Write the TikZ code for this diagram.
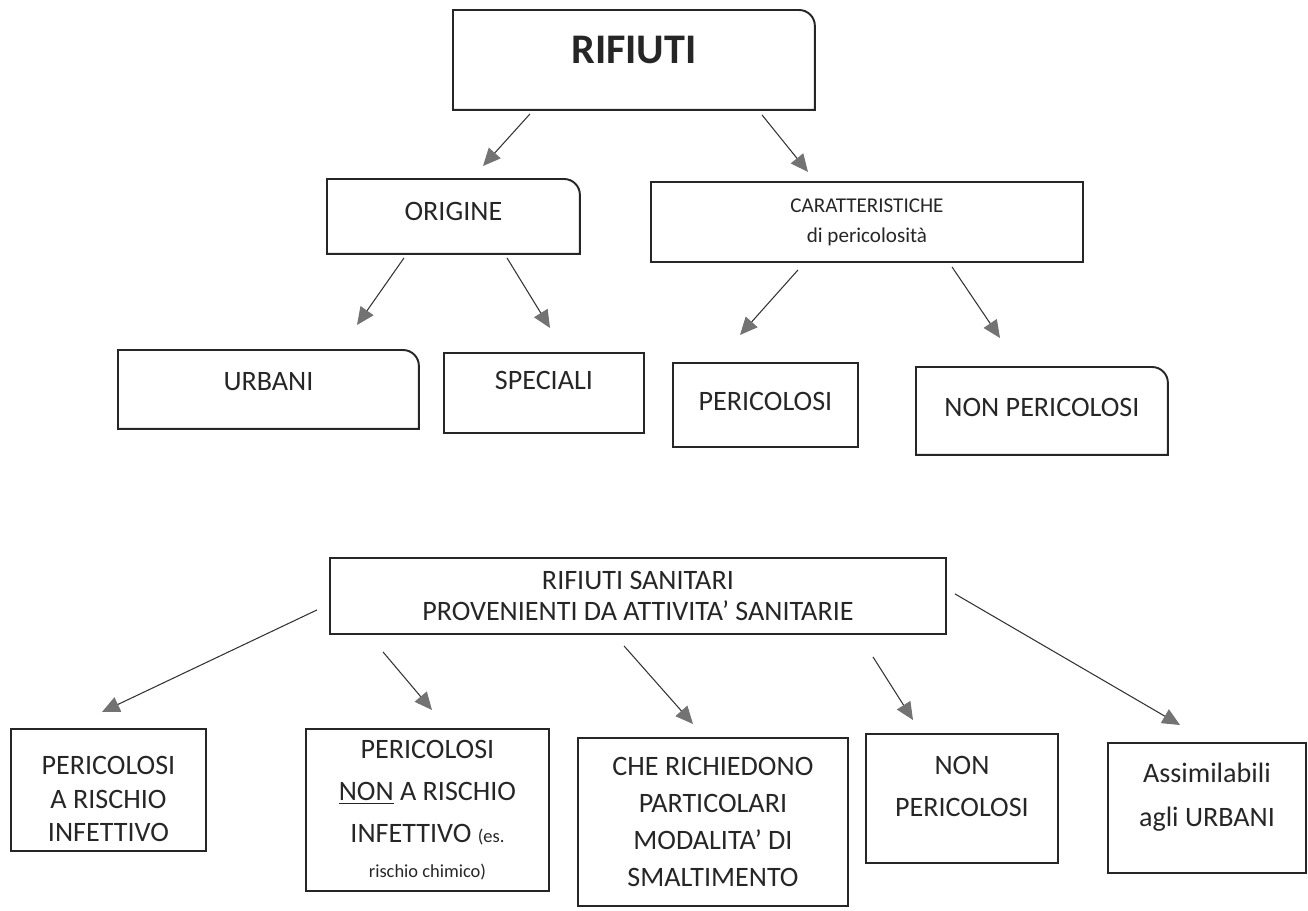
\documentclass[tikz,border=0pt]{standalone}
\usepackage{fontspec}
\setmainfont{Carlito}
\usetikzlibrary{arrows.meta,positioning}

% outline with the top right corner rounded
\newcommand{\roundtr}[1]{%
  \draw[boxline] (#1.south west) -- (#1.north west) -- ([xshift=-9pt]#1.north east)
    arc[start angle=90, end angle=0, radius=9pt] -- (#1.south east) -- cycle;}
% extra depth under the last line, lifts the text in its box
\newcommand{\lift}[1]{\rule[-#1]{0pt}{0pt}}

\tikzset{
  boxline/.style   = {line width=1.1pt, black!85},
  mapbox/.style    = {draw, boxline, anchor=north west, inner sep=0pt, align=center,
                      font=\fontsize{16}{21}\selectfont},
  cornerbox/.style = {mapbox, draw=none},
  arrowlink/.style = {line width=0.6pt, black!80,
                      -{Triangle[length=10pt, width=9pt, color=black!55]}}
}

\begin{document}
\begin{tikzpicture}[x=0.02cm, y=-0.02cm]
  \useasboundingbox (0,0) rectangle (1308,910);

  % Upper map
  \node[cornerbox, minimum width=7.2cm, minimum height=1.96cm,
        font=\fontsize{24}{28}\selectfont\bfseries] (rif) at (453,10) {RIFIUTI\lift{11pt}};
  \node[cornerbox, minimum width=5.02cm, minimum height=1.46cm] (ori) at (327,179) {ORIGINE\lift{6pt}};
  \node[mapbox, minimum width=8.64cm, minimum height=1.6cm,
        font=\fontsize{12}{17}\selectfont] (car) at (650,181) {CARATTERISTICHE\\di pericolosità};

  \node[cornerbox, minimum width=5.98cm, minimum height=1.54cm] (urb) at (118,350) {URBANI\lift{9pt}};
  \node[mapbox, minimum width=4.0cm, minimum height=1.6cm] (spe) at (443,352) {SPECIALI\lift{14pt}};
  \node[mapbox, minimum width=3.7cm, minimum height=1.68cm] (per) at (672,362) {PERICOLOSI\lift{4pt}};
  \node[cornerbox, minimum width=5.0cm, minimum height=1.72cm] (npe) at (916,367) {NON PERICOLOSI\lift{4pt}};

  \roundtr{rif}
  \roundtr{ori}
  \roundtr{urb}
  \roundtr{npe}

  \draw[arrowlink] ([shift={(77,4)}]rif.south west)  -- ([shift={(156,-13)}]ori.north west);
  \draw[arrowlink] ([shift={(309,5)}]rif.south west) -- ([shift={(158,-9)}]car.north west);
  \draw[arrowlink] ([shift={(77,4)}]ori.south west)  -- ([shift={(239,-25)}]urb.north west);
  \draw[arrowlink] ([shift={(180,4)}]ori.south west) -- ([shift={(107,-24)}]spe.north west);
  \draw[arrowlink] ([shift={(148,7)}]car.south west) -- ([shift={(68,-27)}]per.north west);
  \draw[arrowlink] ([shift={(302,4)}]car.south west) -- ([shift={(84,-29)}]npe.north west);

  % Lower map
  \node[mapbox, minimum width=12.32cm, minimum height=1.52cm,
        font=\fontsize{16}{18}\selectfont] (san) at (329,557)
        {RIFIUTI SANITARI\\PROVENIENTI DA ATTIVITA’ SANITARIE};

  \node[mapbox, minimum width=3.9cm, minimum height=2.44cm,
        font=\fontsize{16}{19}\selectfont] (inf) at (10,728)
        {\rule{0pt}{21pt}PERICOLOSI\\A RISCHIO\\INFETTIVO};
  \node[mapbox, minimum width=4.86cm, minimum height=3.24cm,
        font=\fontsize{16}{24}\selectfont] (chi) at (305,728)
        {PERICOLOSI\\\underline{NON} A RISCHIO\\INFETTIVO {\fontsize{10.5}{12}\selectfont(es.}\\[-4pt]
         {\fontsize{10.5}{12}\selectfont rischio chimico)}};
  \node[mapbox, minimum width=5.4cm, minimum height=3.36cm] (sma) at (577,737)
        {CHE RICHIEDONO\\PARTICOLARI\\MODALITA’ DI\\SMALTIMENTO};
  \node[mapbox, minimum width=3.84cm, minimum height=2.58cm,
        font=\fontsize{16}{24}\selectfont] (nop) at (865,733) {NON\\PERICOLOSI\lift{14pt}};
  \node[mapbox, minimum width=3.96cm, minimum height=2.6cm,
        font=\fontsize{16}{25}\selectfont] (ass) at (1107,742) {Assimilabili\\agli URBANI\lift{15pt}};

  \draw[arrowlink] ([shift={(-12,-25)}]san.south west) -- ([shift={(92,-16)}]inf.north west);
  \draw[arrowlink] ([shift={(54,17)}]san.south west)   -- ([shift={(127,-18)}]chi.north west);
  \draw[arrowlink] ([shift={(295,11)}]san.south west)  -- ([shift={(116,-13)}]sma.north west);
  \draw[arrowlink] ([shift={(544,22)}]san.south west)  -- ([shift={(48,-13)}]nop.north west);
  \draw[arrowlink] ([shift={(626,-41)}]san.south west) -- ([shift={(73,-17)}]ass.north west);
\end{tikzpicture}
\end{document}
